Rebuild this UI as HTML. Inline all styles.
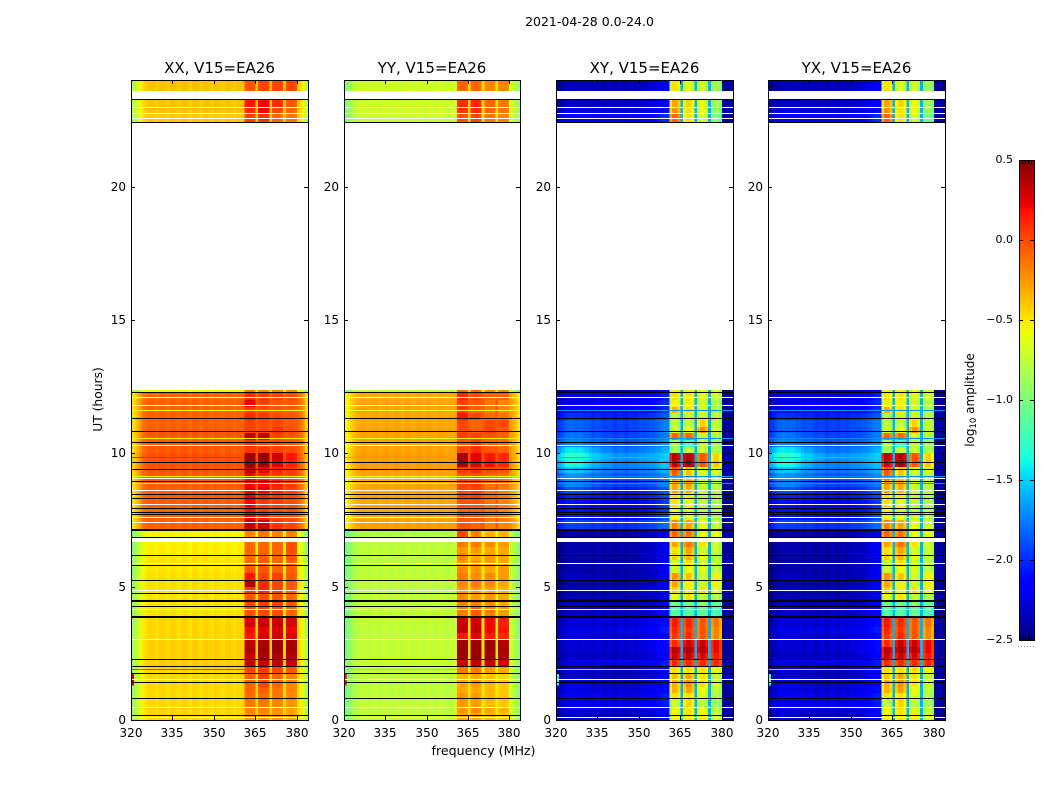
<!DOCTYPE html>
<html>
<head>
<meta charset="utf-8">
<title>2021-04-28 0.0-24.0</title>
<style>
html,body{margin:0;padding:0;background:#fff;}
svg{display:block;}
text{font-family:"DejaVu Sans","Liberation Sans",sans-serif;fill:#000;}
</style>
</head>
<body>
<svg id="fig" width="1050" height="800" viewBox="0 0 1050 800" xmlns="http://www.w3.org/2000/svg"></svg>
<script>
const figureTitle = "2021-04-28 0.0-24.0";
const panelTitles = ["XX, V15=EA26", "YY, V15=EA26", "XY, V15=EA26", "YX, V15=EA26"];
const xTicks = [320, 335, 350, 365, 380];
const yTicks = [0, 5, 10, 15, 20];
const cbarTicks = [-2.5, -2.0, -1.5, -1.0, -0.5, 0.0, 0.5];

const rowStart = [0,.25,.5,.75,1,1.25,1.5,1.75,2,2.25,2.5,2.75,3,3.25,3.5,3.86,4.25,4.5,4.75,5,5.25,5.5,5.75,6,6.25,6.5,6.75,7.12,7.5,7.75,8,8.25,8.5,8.75,9,9.25,9.5,9.75,10,10.25,10.5,10.75,11,11.25,11.5,11.75,12,12.25,22.42,22.75,23,23.6];
const rowEnd = [.25,.5,.75,1,1.25,1.5,1.75,2,2.25,2.5,2.75,3,3.25,3.5,3.86,4.25,4.5,4.75,5,5.25,5.5,5.75,6,6.25,6.5,6.75,7.12,7.5,7.75,8,8.25,8.5,8.75,9,9.25,9.5,9.75,10,10.25,10.5,10.75,11,11.25,11.5,11.75,12,12.25,12.37,22.75,23,23.27,24];
const channelStart = [320,321,322,323,324,325,326,327,328,329,330,331,332,333,334,335,336,337,338,339,340,341,342,343,344,345,346,347,348,349,350,351,352,353,354,355,356,357,358,359,360,361,362,363,364,365,366,367,368,369,370,371,372,373,374,375,376,377,378,379,380,381,382,383];
const bandStart = [361, 366, 371, 376];
const bandEnd = [365, 370, 375, 380];
const gapChannels = [365, 370, 375];
const xyGapLevel = -1.6;
const xyEdgeLevel = -2.42;
const lowBandWeight = [.6,.7,.85,1,1,1,1,1,1,.9,.8,.7,.6,.5,.4,.35,.3,.25,.2,.15,.1,.05,0,0,0,0,0,0,0,0,0,0,0,0,0,0,0,0,0,0,0,0,0,0,0,0,0,0,0,0,0,0,0,0,0,0,0,0,0,0,0,0,0,0];

const xxPlateau = [-.46,-.46,-.47,-.47,-.47,-.47,-.47,-.46,-.44,-.44,-.44,-.44,-.46,-.46,-.46,-.50,-.50,-.50,-.50,-.49,-.49,-.51,-.51,-.51,-.54,-.54,-.58,-.08,-.08,-.08,-.07,-.07,-.07,-.06,-.06,-.05,-.03,-.03,-.06,-.05,-.06,-.07,-.08,-.08,-.08,-.08,-.10,-.55,-.42,-.40,-.40,-.40];
const xxBand1 = [-.25,-.20,-.15,-.12,-.10,-.10,-.08,.00,.30,.30,.36,.33,.15,.18,.27,-.02,.00,-.05,.05,.35,.15,-.05,-.10,-.12,-.10,-.12,-.20,.32,.20,.15,.20,.22,.22,.20,.20,.32,.42,.42,.05,.08,.32,.02,.02,.10,.05,.22,.10,-.15,.02,.10,.15,-.05];
const xxBand2 = [-.25,-.20,-.15,-.12,-.08,.00,.02,.05,.30,.38,.40,.38,.25,.22,.30,.00,.02,-.02,.10,.10,.00,-.05,-.05,-.08,-.10,-.10,-.15,.30,.10,.05,.05,.10,.22,.20,.10,.20,.40,.42,.05,.00,.30,.00,-.02,.05,-.02,.02,.05,-.20,.05,.20,.20,.00];
const xxBand3 = [-.25,-.25,-.20,-.15,-.15,-.10,-.10,.00,.30,.38,.42,.42,.28,.25,.30,-.02,.02,-.05,.00,.00,.02,-.10,-.10,-.10,-.10,-.10,-.20,.05,.00,.00,.02,.05,.10,.12,.05,.10,.25,.28,.02,.00,.02,.05,.00,-.02,-.04,-.04,.02,-.20,-.10,.00,.08,.00];
const xxBand4 = [-.30,-.30,-.25,-.22,-.20,-.20,-.20,-.05,.30,.35,.38,.38,.25,.20,.25,-.10,-.05,-.12,-.10,-.05,-.05,-.08,-.10,-.05,-.02,-.02,-.20,.00,-.02,-.02,-.02,.00,.02,.05,.02,.05,.12,.15,-.02,-.05,-.05,-.02,-.05,-.05,-.06,-.05,-.02,-.20,-.15,-.10,-.05,.00];

const yyPlateau = [-.76,-.76,-.76,-.76,-.77,-.77,-.77,-.76,-.74,-.75,-.75,-.75,-.76,-.76,-.76,-.77,-.77,-.77,-.77,-.76,-.76,-.77,-.77,-.77,-.77,-.77,-.82,-.28,-.30,-.30,-.30,-.30,-.30,-.30,-.30,-.29,-.28,-.28,-.30,-.30,-.30,-.30,-.31,-.31,-.30,-.30,-.32,-.80,-.72,-.72,-.72,-.72];
const yyBand1 = [-.32,-.27,-.27,-.27,-.32,-.32,-.37,-.17,.30,.42,.42,.40,.15,.32,.30,-.17,-.19,-.22,-.27,-.22,-.17,-.22,-.27,-.22,-.27,-.17,.00,-.05,-.05,-.10,-.05,.00,.00,.02,-.05,.05,.38,.38,.00,-.05,.03,.00,.00,.15,.05,.02,.10,-.10,-.05,.05,.08,-.10];
const yyBand2 = [-.32,-.22,-.27,-.27,-.32,-.27,-.32,-.17,.30,.42,.42,.42,.22,.30,.28,-.07,-.17,-.27,-.27,-.17,-.22,-.27,-.27,-.32,-.27,-.17,-.20,-.10,-.05,-.10,-.05,.02,.02,.03,-.05,.10,.25,.22,.08,.05,.02,-.08,-.10,.00,-.08,-.05,.00,-.10,.00,.10,.10,-.10];
const yyBand3 = [-.37,-.32,-.37,-.37,-.37,-.37,-.42,-.27,.30,.40,.42,.42,.15,.20,.20,-.17,-.22,-.27,-.32,-.22,-.22,-.32,-.27,-.27,-.32,-.22,-.35,-.20,-.15,-.15,-.15,-.12,-.12,-.15,-.10,-.02,.18,.15,-.05,-.10,-.05,.02,.00,-.12,-.15,-.15,-.10,-.20,-.15,-.10,-.10,-.20];
const yyBand4 = [-.42,-.37,-.42,-.42,-.42,-.42,-.47,-.32,.25,.35,.38,.35,.10,.15,.12,-.27,-.32,-.32,-.37,-.32,-.27,-.27,-.32,-.32,-.32,-.27,-.35,-.20,-.18,-.20,-.20,-.18,-.18,-.15,-.12,-.05,.10,.10,-.10,-.12,-.08,-.05,.00,-.15,-.20,-.20,-.08,-.20,-.20,-.15,-.15,-.20];

const xyLowBand = [-2.3,-2.25,-2.25,-2.2,-2.25,-2.3,-2.3,-2.3,-2.25,-2.35,-2.3,-2.3,-2.25,-2.25,-2.3,-2.35,-2.35,-2.4,-2.35,-2.4,-2.35,-2.4,-2.4,-2.4,-2.4,-2.4,-2.42,-1.95,-2.05,-2.1,-2.1,-2.05,-1.9,-1.75,-1.7,-1.55,-1.4,-1.3,-1.45,-1.75,-1.8,-1.85,-1.85,-2.0,-2.2,-2.25,-2.25,-2.4,-2.15,-2.25,-2.35,-2.38];
const xyMidBand = [-2.35,-2.3,-2.25,-2.25,-2.3,-2.35,-2.35,-2.35,-2.25,-2.35,-2.3,-2.3,-2.3,-2.25,-2.3,-2.35,-2.4,-2.4,-2.35,-2.4,-2.4,-2.4,-2.4,-2.4,-2.4,-2.4,-2.42,-2.0,-2.1,-2.15,-2.15,-2.1,-2.05,-1.95,-1.9,-1.8,-1.75,-1.7,-1.8,-1.9,-1.95,-1.95,-1.95,-2.05,-2.2,-2.2,-2.25,-2.4,-2.2,-2.3,-2.35,-2.38];
const xyBand1 = [-.55,-.60,-.70,-.50,-.35,-.35,-.40,-.50,.10,.30,.35,.10,.05,.10,.15,-1.10,-1.00,-.60,-.45,-.30,-.25,-.70,-.70,-.45,-.50,-.30,-.10,-.20,-.55,-.60,-.50,-.50,-.30,-.30,-.10,-.05,.30,.35,-.85,-.85,-.10,-.70,-.75,-.80,-.35,-.55,-.50,-.55,-.10,-.25,-.30,-.50];
const xyBand2 = [-.50,-.50,-.45,-.50,-.30,-.25,-.30,-.50,.10,.30,.40,.30,.10,.05,.10,-1.10,-1.00,-.50,-.55,-.55,-.40,-.60,-.50,-.35,-.30,-.15,-.15,-.30,-.65,-.70,-.60,-.55,-.35,-.30,-.40,-.40,.40,.35,-.75,-1.20,-.10,-.60,-.75,-.75,-.50,-.55,-.50,-.55,-.50,-.50,-.45,-.65];
const xyBand3 = [-.55,-.60,-.75,-.65,-.60,-.50,-.50,-.50,.10,.25,.35,.30,-.05,-.05,-.05,-1.05,-.90,-.75,-.50,-.70,-.70,-.65,-.70,-.60,-.70,-.50,-.60,-.60,-.75,-.80,-.75,-.75,-.70,-.70,-.65,-.65,-.05,-.05,-.70,-.75,-.70,-.25,-.45,-.75,-.65,-.70,-.65,-.60,-.70,-.60,-.60,-.70];
const xyBand4 = [-.70,-.75,-.85,-.80,-.75,-.70,-.75,-.60,.10,.15,.20,.20,-.20,-.20,-.15,-1.15,-1.05,-.80,-.60,-.55,-.55,-.75,-.75,-.75,-.70,-.70,-.60,-.70,-.80,-.80,-.80,-.80,-.75,-.75,-.70,-.65,-.40,-.45,-.80,-.85,-.80,-.70,-.75,-.75,-.80,-.80,-.70,-.65,-1.00,-.90,-.85,-.85];

const xxChannelOffset = [-.42,-.36,-.25,-.15,-.06,-.02,.01,.02,.00,-.02,.02,.03,.00,-.02,.02,.03,.00,-.02,.02,.03,.00,-.03,.02,.03,.00,-.02,.02,.03,.00,-.02,.03,.02,-.01,-.02,.02,.03,.00,-.02,.01,.02,.00,.00,.02,.02,.00,.02,.00,.02,.02,.00,.02,.00,.02,.02,.00,.02,.00,.02,.02,.00,.00,-.06,-.18,-.36];
const yyChannelOffset = [-.28,-.22,-.14,-.08,-.03,-.01,.02,.02,.00,-.01,.02,.03,.00,-.01,.02,.03,.00,-.01,.02,.03,.00,-.02,.02,.03,.00,-.01,.02,.03,.00,-.01,.03,.02,.00,-.01,.02,.03,.00,-.01,.01,.02,.00,.00,.02,.02,.00,.25,.00,.02,.02,.00,.25,.00,.02,.02,.00,.25,.00,.02,.02,.00,.05,.00,-.08,-.20];
const xyChannelOffset = [-.10,-.08,-.05,.00,.02,.03,.02,.00,.02,.03,.00,.02,.00,-.02,.02,.03,.00,-.02,.00,.02,.00,-.03,.02,.03,.00,-.02,.02,.03,.00,.02,.05,.04,.05,.06,.08,.08,.12,.15,.18,.2,.2,-.2,.02,.02,-.12,.00,-.12,.02,.02,-.12,.00,-.12,.02,.02,-.12,.00,-.12,.02,.02,-.15,.00,.00,.00,.00];

const blackHours = [23.27,22.42,12.27,11.31,10.83,10.41,9.66,9.40,8.96,8.46,8.31,7.94,7.79,7.69,6.85,6.16,5.81,5.24,4.75,4.27,2.28,2.00,1.75,1.41,.81,.18];
const thickBlackHours = [7.12,4.47,3.86];
const whiteHours = [22.97,22.75,22.56,12.10,11.80,10.31,9.05,8.62,8.10,7.60,7.41,5.86,4.85,4.15,3.03,1.51,.46,.10];
const thickWhiteHours = [6.75];
const lightHours = [11.59,10.55,9.12,8.87];
const lightLevels = [-.55,-.62,-1.7,-1.7];
const rfiHours = [1.93,9.86];
const rfiXX = [.05,.10];
const rfiYY = [-.4,-.25];
const rfiXY = [-1.25,-1.55];
const burstLevels = [.3,.1,-1.3,-1.3];
const burstHours = [1.3,1.75];
const burstFreq = [320,321];

const panelPlateauLow = [xxPlateau, yyPlateau, xyLowBand, xyLowBand];
const panelPlateauMid = [xxPlateau, yyPlateau, xyMidBand, xyMidBand];
const panelBands = [[xxBand1,xxBand2,xxBand3,xxBand4],[yyBand1,yyBand2,yyBand3,yyBand4],[xyBand1,xyBand2,xyBand3,xyBand4],[xyBand1,xyBand2,xyBand3,xyBand4]];
const panelOffsets = [xxChannelOffset, yyChannelOffset, xyChannelOffset, xyChannelOffset];
const panelRfi = [rfiXX, rfiYY, rfiXY, rfiXY];

const NS = "http://www.w3.org/2000/svg";
const svg = document.getElementById("fig");
const axisLeft = [131, 344, 556, 768];
const axisWidths = [177, 176, 177, 177];
const axisTop = 80, axisBottom = 720;
const freqMin = 320, freqMax = 384, hourMin = 0, hourMax = 24;
const cbLeft = 1019, cbWidth = 15, cbTop = 160, cbBottom = 640, levelMin = -2.5, levelMax = 0.5;

function yScale(h){ return axisBottom - (h - hourMin) / (hourMax - hourMin) * (axisBottom - axisTop); }
function xScale(p, f){ return axisLeft[p] + (f - freqMin) / (freqMax - freqMin) * axisWidths[p]; }
function cbScale(v){ return cbBottom - (v - levelMin) / (levelMax - levelMin) * (cbBottom - cbTop); }
function ramp(t, pts){
  for (let i = 1; i < pts.length; i++) {
    if (t <= pts[i][0]) {
      const a = pts[i-1], b = pts[i];
      return a[1] + (b[1] - a[1]) * (t - a[0]) / (b[0] - a[0]);
    }
  }
  return pts[pts.length-1][1];
}
function jet(v){
  const t = Math.max(0, Math.min(1, (v - levelMin) / (levelMax - levelMin)));
  const r = ramp(t, [[0,0],[.35,0],[.66,1],[.89,1],[1,.5]]);
  const g = ramp(t, [[0,0],[.125,0],[.375,1],[.64,1],[.91,0],[1,0]]);
  const b = ramp(t, [[0,.5],[.11,1],[.34,1],[.65,0],[1,0]]);
  return "rgb(" + Math.round(r*255) + "," + Math.round(g*255) + "," + Math.round(b*255) + ")";
}
function addRect(parent, x, y, w, h, fill){
  const el = document.createElementNS(NS, "rect");
  el.setAttribute("x", x);
  el.setAttribute("y", y);
  el.setAttribute("width", w);
  el.setAttribute("height", h);
  el.setAttribute("fill", fill);
  el.setAttribute("shape-rendering", "crispEdges");
  parent.appendChild(el);
  return el;
}
function addText(parent, x, y, str, size, anchor){
  const el = document.createElementNS(NS, "text");
  el.setAttribute("x", x);
  el.setAttribute("y", y);
  el.setAttribute("font-size", size);
  el.setAttribute("text-anchor", anchor);
  el.textContent = str;
  parent.appendChild(el);
  return el;
}
function addGroup(parent){
  const g = document.createElementNS(NS, "g");
  parent.appendChild(g);
  return g;
}
function channelValue(p, r, c){
  const f = channelStart[c];
  for (let b = 0; b < 4; b++) {
    if (f >= bandStart[b] && f < bandEnd[b]) return panelBands[p][b][r] + panelOffsets[p][c];
  }
  if (p >= 2 && gapChannels.includes(f)) return xyGapLevel;
  if (p >= 2 && f >= bandEnd[3]) return xyEdgeLevel;
  const low = panelPlateauLow[p][r];
  const mid = panelPlateauMid[p][r];
  const w = lowBandWeight[c];
  return mid + (low - mid) * w + panelOffsets[p][c];
}
function drawLine(parent, p, hour, thickness, fill, name){
  const el = addRect(parent, axisLeft[p], Math.round(yScale(hour) - thickness / 2), axisWidths[p], thickness, fill);
  
  
}

const suptitle = addText(svg, 589.5, 26, figureTitle, 12.5, "middle");



for (let p = 0; p < 4; p++) {
  const panel = addGroup(svg);
  
  

  const heat = addGroup(panel);
  
  

  for (let r = 0; r < rowStart.length; r++) {
    const y0 = Math.round(yScale(rowEnd[r]));
    const y1 = Math.round(yScale(rowStart[r]));
    for (let c = 0; c < channelStart.length; c++) {
      const x0 = xScale(p, channelStart[c]);
      const x1 = c + 1 < channelStart.length ? xScale(p, channelStart[c + 1]) : xScale(p, freqMax);
      const cell = addRect(heat, x0, y0, x1 - x0, y1 - y0, jet(channelValue(p, r, c)));
      
      
    }
  }

  for (let i = 0; i < rfiHours.length; i++) {
    const wx = xScale(p, freqMin);
    const ww = xScale(p, bandStart[0]) - wx;
    const rfi = addRect(heat, wx, Math.round(yScale(rfiHours[i])), ww, 1, jet(panelRfi[p][i]));
    
    
  }
  const burst = addRect(heat, xScale(p, burstFreq[0]), yScale(burstHours[1]), xScale(p, burstFreq[1]) - xScale(p, burstFreq[0]), yScale(burstHours[0]) - yScale(burstHours[1]), jet(burstLevels[p]));
  
  

  for (const h of lightHours) drawLine(panel, p, h, 1, jet(lightLevels[p]), "light-row");
  for (const h of whiteHours) drawLine(panel, p, h, 1, "#fff", "flagged-white-row");
  for (const h of thickWhiteHours) drawLine(panel, p, h, 4, "#fff", "flagged-white-gap");
  for (const h of blackHours) drawLine(panel, p, h, 1, "#000", "flagged-black-row");
  for (const h of thickBlackHours) drawLine(panel, p, h, 2, "#000", "flagged-black-band");

  const frame = document.createElementNS(NS, "rect");
  frame.setAttribute("x", axisLeft[p] + 0.5);
  frame.setAttribute("y", axisTop + 0.5);
  frame.setAttribute("width", axisWidths[p]);
  frame.setAttribute("height", axisBottom - axisTop);
  frame.setAttribute("fill", "none");
  frame.setAttribute("stroke", "#000");
  frame.setAttribute("stroke-width", "1");
  
  
  panel.appendChild(frame);

  for (const f of xTicks) {
    const px = Math.round(xScale(p, f));
    const t1 = addRect(panel, px, axisBottom - 4, 1, 4, "#000");
    
    
    const t2 = addRect(panel, px, axisTop, 1, 4, "#000");
    
    
    const lbl = addText(panel, px, 737, String(f), 12, "middle");
    
    
  }
  for (const h of yTicks) {
    const py = Math.round(yScale(h));
    const t1 = addRect(panel, axisLeft[p], py, 4, 1, "#000");
    
    
    const t2 = addRect(panel, axisLeft[p] + axisWidths[p] - 4, py, 4, 1, "#000");
    
    
    const lbl = addText(panel, axisLeft[p] - 5, py + 4, String(h), 12, "end");
    
    
  }
  const ttl = addText(panel, axisLeft[p] + axisWidths[p] / 2, 73, panelTitles[p], 15, "middle");
  
  
}

const yLabel = addText(svg, 0, 0, "UT (hours)", 12.3, "middle");
yLabel.setAttribute("transform", "translate(102 399.5) rotate(-90)");



const xLabel = addText(svg, 483.5, 755, "frequency (MHz)", 12.6, "middle");



const cbar = addGroup(svg);


for (let py = cbTop; py < cbBottom; py += 2) {
  const v = levelMax - (py + 1 - cbTop) / (cbBottom - cbTop) * (levelMax - levelMin);
  const seg = addRect(cbar, cbLeft, py, cbWidth, 2, jet(v));
  
  
}
const cbFrame = document.createElementNS(NS, "rect");
cbFrame.setAttribute("x", cbLeft + 0.5);
cbFrame.setAttribute("y", cbTop + 0.5);
cbFrame.setAttribute("width", cbWidth);
cbFrame.setAttribute("height", cbBottom - cbTop);
cbFrame.setAttribute("fill", "none");
cbFrame.setAttribute("stroke", "#000");


cbar.appendChild(cbFrame);
for (const v of cbarTicks) {
  const py = Math.round(cbScale(v));
  const t1 = addRect(cbar, cbLeft, py, 4, 1, "#000");
  
  
  const t2 = addRect(cbar, cbLeft + cbWidth - 4, py, 4, 1, "#000");
  
  
  const str = (v < 0 ? "\u2212" : "") + Math.abs(v).toFixed(1);
  const lbl = addText(cbar, 1013, py + 3, str, 11, "end");
  
  
}
for (let i = 0; i < 6; i++) {
  const tx = cbLeft + i * 3;
  const m1 = addRect(cbar, tx, cbBottom - 4, 1, 4, "#000");
  
  
  const m2 = addRect(cbar, tx, cbTop, 1, 4, "#000");
  
  
  const d = addRect(cbar, tx - 1, 646, 1, 1, "#999");
  
  
}

const cbLabel = document.createElementNS(NS, "text");
cbLabel.setAttribute("font-size", "12");
cbLabel.setAttribute("text-anchor", "middle");
cbLabel.setAttribute("transform", "translate(974 400) rotate(-90)");


const cbA = document.createElementNS(NS, "tspan");
cbA.textContent = "log";
const cbB = document.createElementNS(NS, "tspan");
cbB.setAttribute("font-size", "8.5");
cbB.setAttribute("dy", "2");
cbB.textContent = "10";
const cbC = document.createElementNS(NS, "tspan");
cbC.setAttribute("dy", "-2");
cbC.textContent = " amplitude";
cbLabel.appendChild(cbA);
cbLabel.appendChild(cbB);
cbLabel.appendChild(cbC);
svg.appendChild(cbLabel);
</script>
</body>
</html>
